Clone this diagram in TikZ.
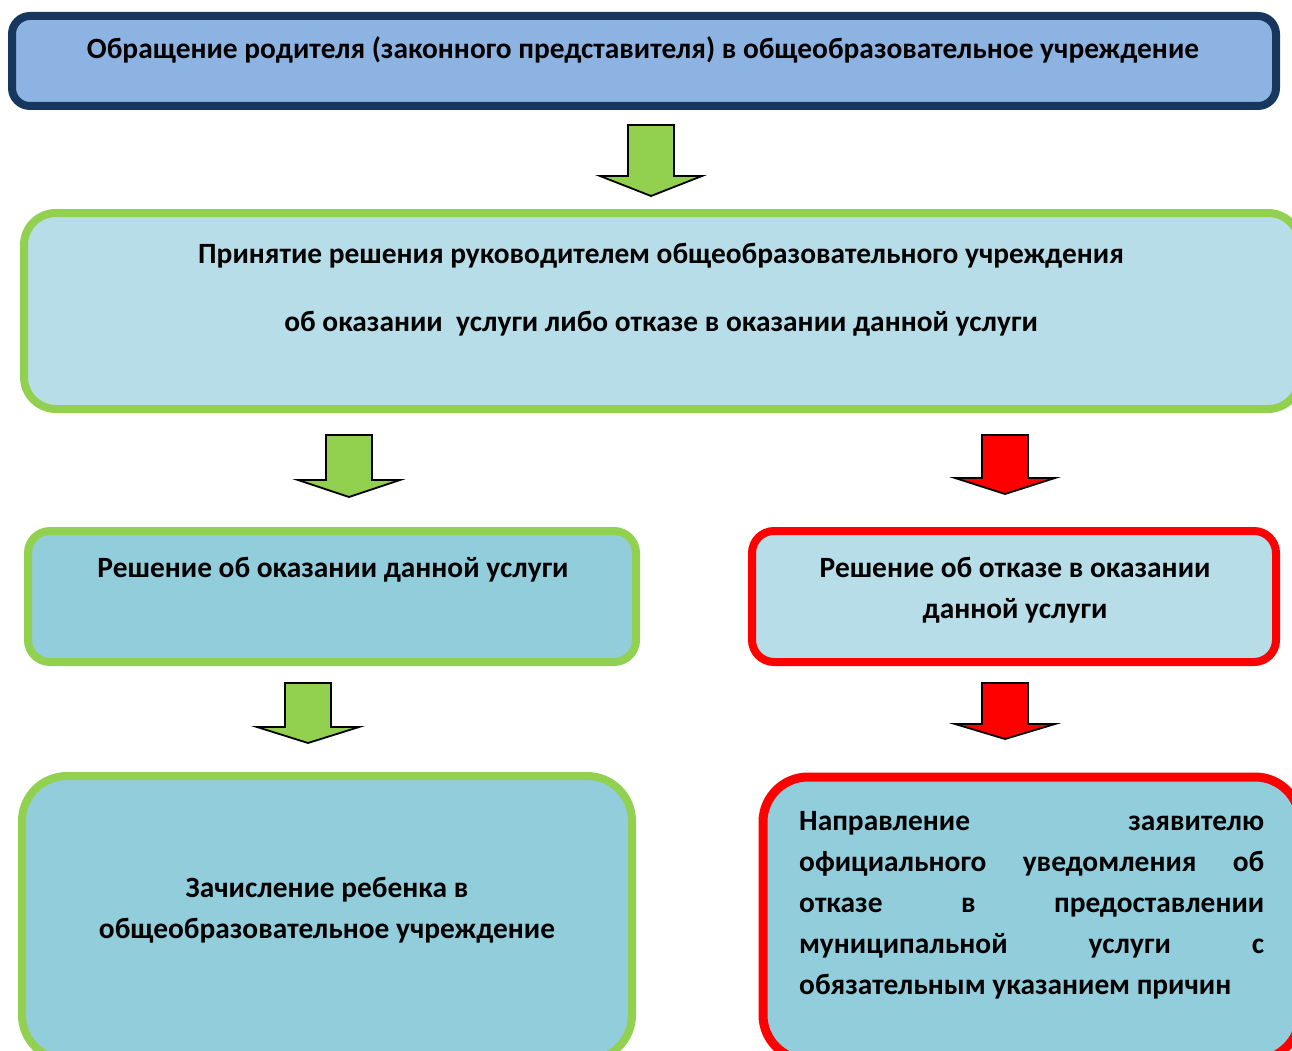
\documentclass[tikz,border=0pt]{standalone}
\usepackage{fontspec}
\setmainfont{Carlito}
\definecolor{navy}{HTML}{17375E}
\definecolor{topfill}{HTML}{8DB3E2}
\definecolor{grn}{HTML}{92D050}
\definecolor{lblue}{HTML}{B7DDE8}
\definecolor{mblue}{HTML}{92CDDC}
\definecolor{rd}{HTML}{FF0000}
\newcommand\blkarrow[8]{% color, cx, top, shoulder, tip, halfshaft, halfhead, name
  \draw[blkarr, fill=#1] (#2-#6,#3) -- (#2+#6,#3) -- (#2+#6,#4) -- (#2+#7,#4)
    -- (#2,#5) coordinate (#8) -- (#2-#7,#4) -- (#2-#6,#4) -- cycle;}
\begin{document}
\begin{tikzpicture}[x=1pt,y=-1pt,
  box/.style={line width=8pt},
  txt/.style={font=\fontsize{29.4}{35}\selectfont\bfseries, anchor=base, inner sep=0pt},
  jline/.style={txt, anchor=base west},
  blkarr/.style={draw=black, line width=1.8pt, line join=miter}]
\useasboundingbox (0,0) rectangle (1292,1051);
\clip (0,0) rectangle (1292,1051);
% boxes
\draw[box, draw=navy, fill=topfill, rounded corners=18pt] (12,16) rectangle (1276,106);
\draw[box, draw=grn, fill=lblue, rounded corners=32pt] (24,213) rectangle (1300,409);
\draw[box, draw=grn, fill=mblue, rounded corners=22pt] (28,531) rectangle (636,662);
\draw[box, draw=rd, fill=lblue, rounded corners=22pt] (752,531) rectangle (1276,662);
\draw[box, draw=grn, fill=mblue, rounded corners=45pt] (22,776) rectangle (632,1060);
\draw[box, line width=9pt, draw=rd, fill=mblue, rounded corners=45pt] (763,777) rectangle (1300,1060);
% texts
\node[txt] (t1) at (643,59) {Обращение родителя (законного представителя) в общеобразовательное учреждение};
\node[txt] (t2a) at (661,263) {Принятие решения руководителем общеобразовательного учреждения};
\node[txt] (t2b) at (661,331) {об оказании\ \ услуги либо отказе в оказании данной услуги};
\node[txt] (t3) at (333,577) {Решение об оказании данной услуги};
\node[txt] (t4a) at (1015,577) {Решение об отказе в оказании};
\node[txt] (t4b) at (1015,618) {данной услуги};
\node[txt] (t5a) at (327,897) {Зачисление ребенка в};
\node[txt] (t5b) at (327,938) {общеобразовательное учреждение};
\node[jline] (t6a) at (799,830) {\hbox to 465pt{Направление\hfill заявителю}};
\node[jline] (t6b) at (799,871) {\hbox to 465pt{официального\hfill уведомления\hfill об}};
\node[jline] (t6c) at (799,912) {\hbox to 465pt{отказе\hfill в\hfill предоставлении}};
\node[jline] (t6d) at (799,953) {\hbox to 465pt{муниципальной\hfill услуги\hfill с}};
\node[jline] (t6e) at (799,994) {обязательным указанием причин};
% arrows
\blkarrow{grn}{651}{125}{176}{196}{23}{51}{a1}
\blkarrow{grn}{349}{435}{480}{497}{23}{51}{a2}
\blkarrow{rd}{1005}{435}{478}{494}{23}{50}{a3}
\blkarrow{grn}{308}{683}{727}{743}{23}{51}{a4}
\blkarrow{rd}{1005}{683}{724}{739}{23}{50}{a5}
\end{tikzpicture}
\end{document}
